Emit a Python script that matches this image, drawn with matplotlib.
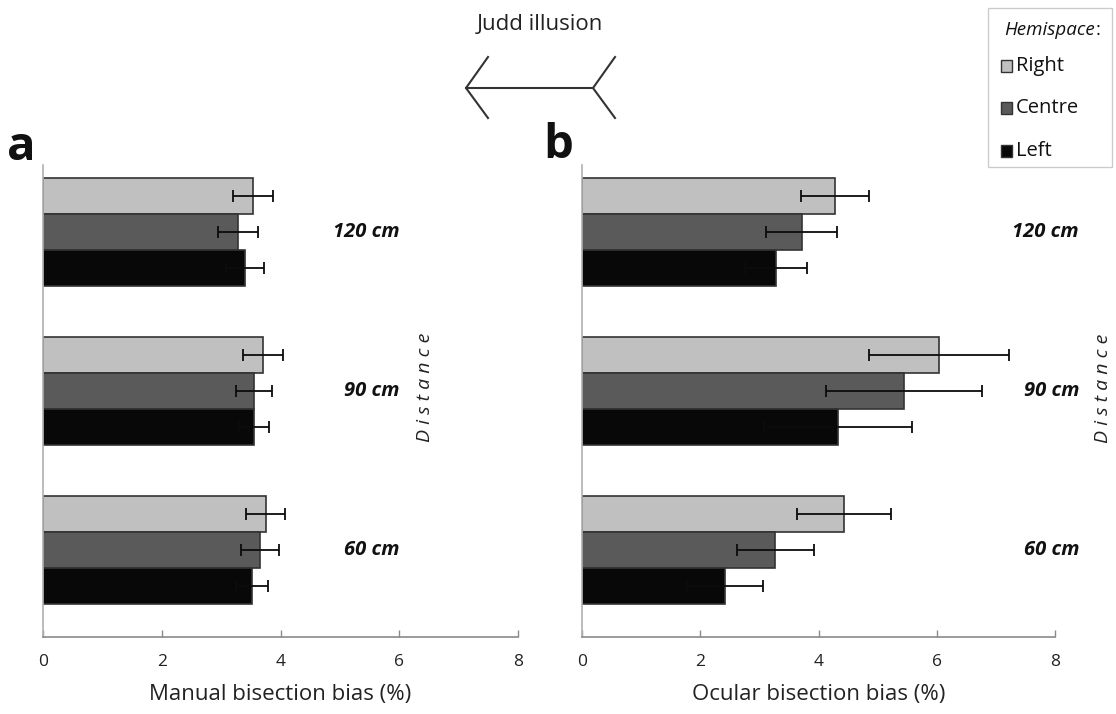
import matplotlib
matplotlib.use("Agg")
import matplotlib.pyplot as plt
import matplotlib.lines as mlines
import matplotlib.patches as mpatches
import numpy as np

plt.rcParams['font.family'] = ['Open Sans', 'DejaVu Sans']

distances = ["60 cm", "90 cm", "120 cm"]
hemispaces = ["Right", "Centre", "Left"]
colors = {"Right": "#c0c0c0", "Centre": "#5a5a5a", "Left": "#080808"}

# Manual bisection bias (%) per distance (60, 90, 120)
manual_mean = {"Right": [3.75, 3.70, 3.54],
               "Centre": [3.65, 3.55, 3.28],
               "Left": [3.52, 3.55, 3.40]}
manual_err = {"Right": [0.33, 0.34, 0.34],
              "Centre": [0.32, 0.30, 0.34],
              "Left": [0.27, 0.25, 0.32]}
# Ocular bisection bias (%)
ocular_mean = {"Right": [4.43, 6.04, 4.28],
               "Centre": [3.27, 5.45, 3.72],
               "Left": [2.42, 4.33, 3.28]}
ocular_err = {"Right": [0.80, 1.18, 0.57],
              "Centre": [0.65, 1.32, 0.60],
              "Left": [0.64, 1.25, 0.52]}

xticks = [0, 2, 4, 6, 8]

W, H = 1116, 714
fig = plt.figure(figsize=(W / 100, H / 100), dpi=100)

def px_axes(x0, x1, ytop, ybot):
    return fig.add_axes([x0 / W, 1 - ybot / H, (x1 - x0) / W, (ybot - ytop) / H])

ax1 = px_axes(43, 518, 165, 637)
ax2 = px_axes(582, 1055, 165, 637)

bh = 0.226
offsets = {"Right": bh, "Centre": 0.0, "Left": -bh}
ypos = np.arange(len(distances))

def draw(ax, means, errs, xlabel):
    for h in hemispaces:
        y = ypos + offsets[h]
        ax.barh(y, means[h], height=bh, color=colors[h], edgecolor="#333333",
                linewidth=1.2, zorder=2)
        ax.errorbar(means[h], y, xerr=errs[h], fmt="none", ecolor="#0c0c0c",
                    elinewidth=1.3, capsize=4, capthick=1.3, zorder=3)
    ax.set_xlim(0, 8)
    ax.set_ylim(-0.547, 2.421)
    ax.set_xticks(xticks)
    ax.set_xticklabels([str(t) for t in xticks])
    ax.set_yticks([])
    for s in ["top", "right"]:
        ax.spines[s].set_visible(False)
    ax.spines["left"].set_color("#b0b0b0")
    ax.spines["left"].set_linewidth(1.2)
    ax.spines["bottom"].set_color("#8a8a8a")
    ax.spines["bottom"].set_linewidth(1.2)
    ax.tick_params(axis="x", direction="in", length=5, width=1, color="#8a8a8a",
                   pad=12, labelsize=12.5, labelcolor="#222222")
    ax.set_xlabel(xlabel, fontsize=16, labelpad=10, color="#222222")

draw(ax1, manual_mean, manual_err, "Manual bisection bias (%)")
draw(ax2, ocular_mean, ocular_err, "Ocular bisection bias (%)")

# distance labels (right-aligned)
for ax, xr, x0, w in [(ax1, 400, 43, 475), (ax2, 1079, 582, 473)]:
    for i, d in enumerate(distances):
        ax.text((xr - x0) / w * 8, ypos[i], d, ha="right", va="center",
                fontsize=14.5, fontweight="bold", fontstyle="italic",
                color="#111111", clip_on=False)

for xc, yc in [(425, 387), (1103, 388)]:
    fig.text(xc / W, 1 - yc / H, "D i s t a n c e", rotation=90, ha="center",
             va="center", fontsize=14, fontstyle="italic", color="#222222")

# panel letters
fig.text(21 / W, 1 - 148 / H, "a", fontsize=34, fontweight="bold",
         ha="center", va="center", color="#111111")
fig.text(558 / W, 1 - 146 / H, "b", fontsize=34, fontweight="bold",
         ha="center", va="center", color="#111111")

# Judd illusion figure
fig.text(540 / W, 1 - 25 / H, "Judd illusion", fontsize=16, ha="center",
         va="center", color="#222222")
def fline(xs, ys):
    fig.add_artist(mlines.Line2D([x / W for x in xs], [1 - y / H for y in ys],
                                 color="#333333", linewidth=1.5))
fline([466, 593], [88, 88])
fline([488, 466, 488], [57, 88, 118])
fline([615, 593, 615], [57, 88, 118])

# legend box
fig.add_artist(mpatches.Rectangle((988 / W, 1 - 167 / H), 124 / W, 159 / H,
                                  facecolor="white", edgecolor="#cccccc",
                                  linewidth=1.0))
t_hemi = fig.text(1004 / W, 1 - 30 / H, "Hemispace", fontsize=13.5,
                  fontstyle="italic", ha="left", va="center", color="#111111")
fig.canvas.draw()
bb = t_hemi.get_window_extent(renderer=fig.canvas.get_renderer())
fig.text(bb.x1 / W + 1 / W, 1 - 30 / H, ":", fontsize=13.5, ha="left",
         va="center", color="#111111")
for h, yc in zip(hemispaces, [66, 108, 151]):
    fig.add_artist(mpatches.Rectangle((1001 / W, 1 - (yc + 6) / H), 11 / W, 12 / H,
                                      facecolor=colors[h], edgecolor="#333333",
                                      linewidth=1.0))
    fig.text(1016 / W, 1 - yc / H, h, fontsize=14.5, ha="left", va="center",
             color="#111111")

fig.savefig("out.png", dpi=100)
